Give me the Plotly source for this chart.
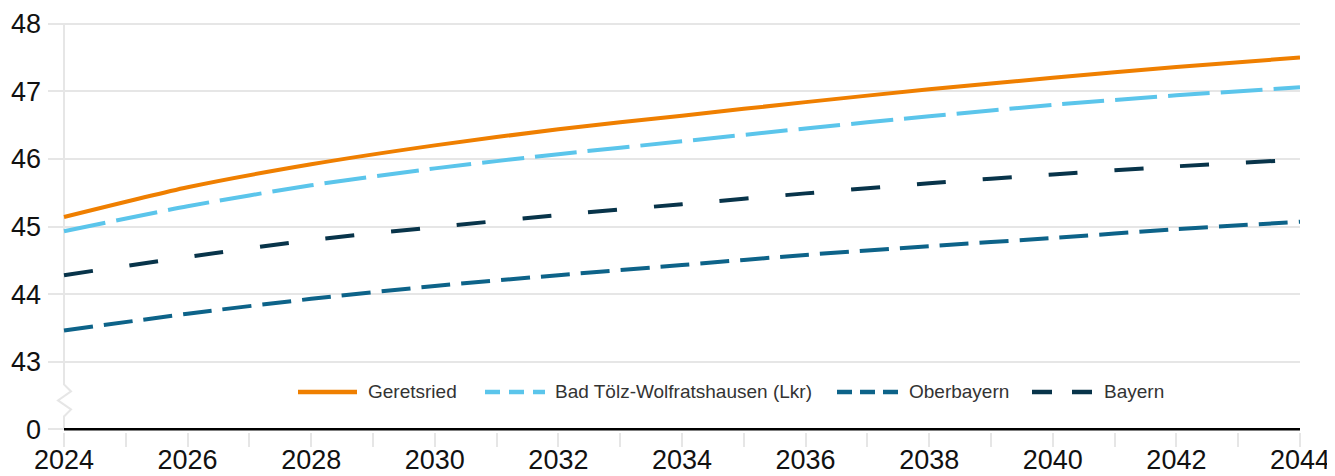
import plotly.graph_objects as go

years = list(range(2024, 2045, 2))
geretsried = [45.14, 45.58, 45.92, 46.20, 46.44, 46.64, 46.84, 47.03, 47.20, 47.36, 47.50]
bad_toelz = [44.93, 45.30, 45.61, 45.86, 46.07, 46.26, 46.45, 46.63, 46.80, 46.94, 47.06]
oberbayern = [43.46, 43.71, 43.93, 44.12, 44.28, 44.43, 44.58, 44.71, 44.83, 44.96, 45.07]
bayern = [44.28, 44.55, 44.80, 44.99, 45.17, 45.33, 45.49, 45.64, 45.77, 45.89, 45.99]

series_names = ["Geretsried", "Bad Tölz-Wolfratshausen (Lkr)", "Oberbayern", "Bayern"]
colors = ["#EF7F00", "#5BC5EB", "#0D6389", "#08344A"]
dashes = ["solid", "42px,11px", "29px,11px", "29px,37px"]
legend_dashes = ["solid", "15px,9px", "15px,8px", "20px,20px"]

y_tickvals = [42, 43, 44, 45, 46, 47, 48]
y_ticktext = ["0", "43", "44", "45", "46", "47", "48"]
x_tickvals = list(range(2024, 2045))
x_ticktext = [str(y) if y % 2 == 0 else "" for y in x_tickvals]

# page body has an 8px margin; figure coordinates are window pixels minus 8
OFF = 8
W, H = 1327, 468
L, R, T, B = 40, 35, 13.3, 44
FONT = "Liberation Sans, Arial, Helvetica, sans-serif"

def pxx(p):
    return (p - OFF - L) / (W - L - R)

def pxy(p):
    return (H - B - (p - OFF)) / (H - T - B)

fig = go.Figure()
all_series = [geretsried, bad_toelz, oberbayern, bayern]
for name, vals, col, dsh in zip(series_names, all_series, colors, dashes):
    fig.add_trace(go.Scatter(
        x=years, y=vals, name=name, mode="lines",
        line=dict(color=col, width=4, dash=dsh, shape="spline", smoothing=0.6),
        showlegend=False, hoverinfo="x+y+name",
    ))

year_px = (1300 - 64) / 20.0
unit_px = (429.3 - 24) / 6.0

def dx(p):
    return 2024 + p / year_px

def dy(p):
    return 43 - (p - 362.3) / unit_px

shapes = []
grid_col = "#E6E6E6"
zig = [(0, 385), (7, 392), (-6, 401), (7, 410), (0, 417)]
path = "M %f,%f L %f,%f" % (dx(0), 48, dx(0), dy(385))
for (ox, oy) in zig[1:]:
    path += " L %f,%f" % (dx(ox), dy(oy))
path += " L %f,%f" % (dx(0), 42)
shapes.append(dict(type="path", path=path, xref="x", yref="y",
                   line=dict(color=grid_col, width=2), layer="below"))
shapes.append(dict(type="line", xref="x", yref="y", x0=2024, x1=2044, y0=42, y1=42,
                   line=dict(color="#000000", width=2.5), layer="above"))

legend_y = 392
samples = [(298, 357, 366), (485, 545, 553), (837, 898, 907), (1032, 1092, 1102)]
annotations = []
for (x0, x1, tx), name, col, dsh in zip(samples, series_names, colors, legend_dashes):
    shapes.append(dict(type="line", xref="paper", yref="paper",
                       x0=pxx(x0), x1=pxx(x1), y0=pxy(legend_y), y1=pxy(legend_y),
                       line=dict(color=col, width=4.5, dash=dsh), layer="above"))
    annotations.append(dict(text=name, xref="paper", yref="paper", x=pxx(tx), y=pxy(legend_y),
                            xanchor="left", yanchor="middle", showarrow=False,
                            font=dict(family=FONT, size=19, color="#333333")))

fig.update_layout(
    width=W, height=H,
    margin=dict(l=L, r=R, t=T, b=B, pad=0, autoexpand=False),
    paper_bgcolor="white", plot_bgcolor="white",
    shapes=shapes, annotations=annotations,
    showlegend=False,
    xaxis=dict(
        range=[2024 - 16 / year_px, 2044],
        tickvals=x_tickvals, ticktext=x_ticktext,
        ticks="outside", ticklen=14, tickwidth=2, tickcolor=grid_col,
        ticklabelstandoff=-10,
        showgrid=False, zeroline=False, showline=False,
        tickfont=dict(family=FONT, size=27, color="#111111"),
        automargin=False, fixedrange=True,
    ),
    yaxis=dict(
        range=[41.96, 48.04],
        tickvals=y_tickvals, ticktext=y_ticktext,
        showgrid=True, gridcolor=grid_col, gridwidth=2,
        zeroline=False, showline=False, ticks="",
        ticklabelstandoff=6,
        tickfont=dict(family=FONT, size=27, color="#111111"),
        automargin=False, fixedrange=True,
    ),
)

fig.write_html("out.html")
